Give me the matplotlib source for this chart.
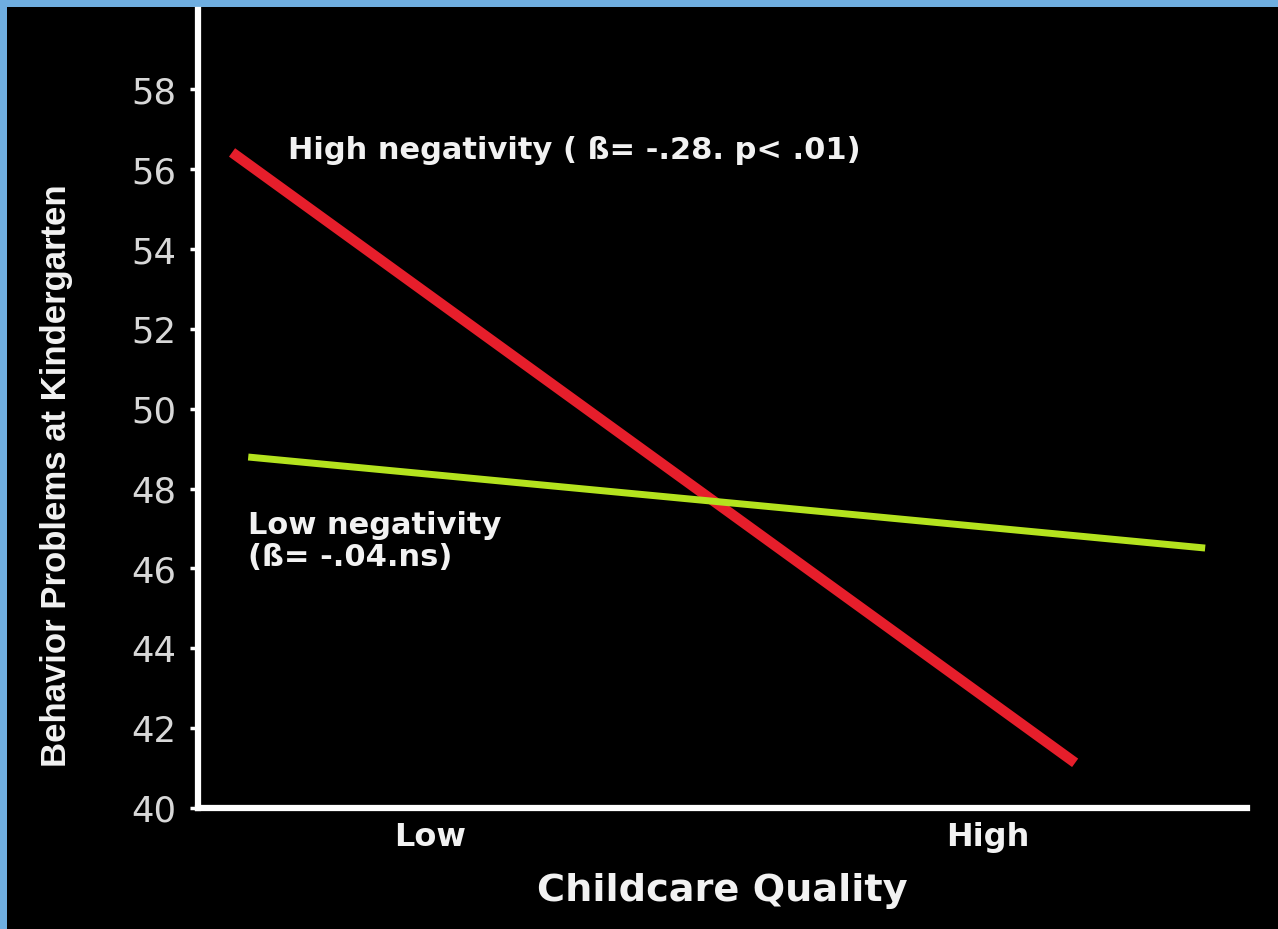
import matplotlib
matplotlib.use("Agg")
import matplotlib.pyplot as plt
from matplotlib.patches import Rectangle

# Werte
categories = ["Low", "High"]
cat_pos = [0, 1]
x_high = [-0.355, 1.156]
y_high = [56.42, 41.13]
x_low = [-0.326, 1.389]
y_low = [48.79, 46.51]
yticks = [40, 42, 44, 46, 48, 50, 52, 54, 56, 58]

plt.rcParams['font.family'] = ['DejaVu Sans']

fig = plt.figure(figsize=(12.78, 9.295), dpi=100)
fig.patch.set_facecolor('#6FAEE0')
# schwarzer Hintergrund, blauer Rand nur links und oben
fig.patches.append(Rectangle((7 / 1278, 0), 1, 1 - 7 / 929, transform=fig.transFigure,
                             facecolor='black', edgecolor='none', zorder=-5))

ax = fig.add_axes([198 / 1278, 1 - 808 / 929, (1247 - 198) / 1278, (808 - 10) / 929])
ax.set_zorder(5)
ax.set_facecolor('black')

ax.plot(x_high, y_high, color='#E61E2B', linewidth=7.5, solid_capstyle='butt')
ax.plot(x_low, y_low, color='#B4E31E', linewidth=5, solid_capstyle='butt')

ax.set_xlim(-0.416, 1.464)
ax.set_ylim(40, 60)
ax.set_yticks(yticks)
ax.set_xticks(cat_pos)
ax.set_xticklabels(categories, fontsize=23, fontweight='bold', color='#F2F2F2')
ax.tick_params(axis='x', length=0, pad=10)
ax.tick_params(axis='y', length=6, width=2.5, color='white', pad=9.5,
               labelsize=25.5, labelcolor='#D8D8D8')

for s in ['top', 'right']:
    ax.spines[s].set_visible(False)
for s in ['left', 'bottom']:
    ax.spines[s].set_color('white')
    ax.spines[s].set_linewidth(4.5)

ax.set_xlabel('Childcare Quality', fontsize=27.5, fontweight='bold', color='#F2F2F2', labelpad=14)
ax.set_ylabel('Behavior Problems at Kindergarten', fontsize=25, fontweight='bold',
              color='#F2F2F2', family=['Liberation Sans', 'DejaVu Sans'])
ax.yaxis.set_label_coords(-0.119, 0.417)

ax.text(-0.254, 56.47, 'High negativity ( ß= -.28. p< .01)', fontsize=22,
        fontweight='bold', color='#F2F2F2', va='center', ha='left')
ax.text(-0.326, 46.69, 'Low negativity\n(ß= -.04.ns)', fontsize=22,
        fontweight='bold', color='#F2F2F2', va='center', ha='left', linespacing=1.15)

fig.savefig('out.png', dpi=100, facecolor=fig.get_facecolor())
